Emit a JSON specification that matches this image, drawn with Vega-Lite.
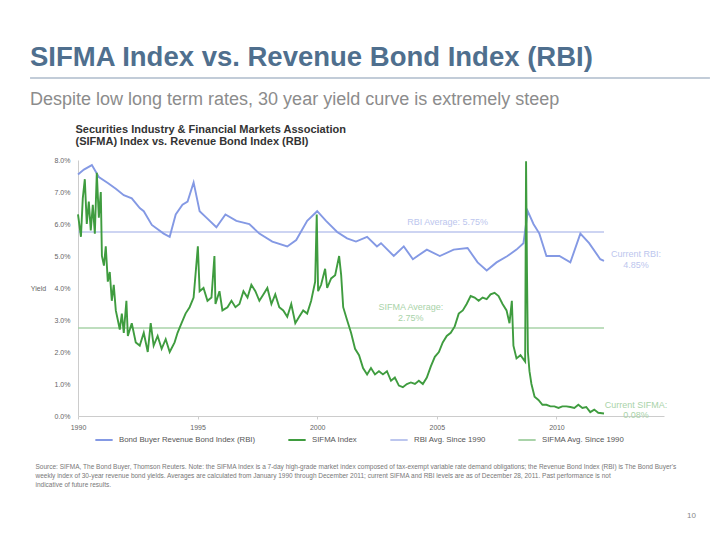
{
  "$schema": "https://vega.github.io/schema/vega-lite/v6.json",
  "autosize": {"type": "none"},
  "padding": {"left": 78, "top": 160, "right": 56, "bottom": 124},
  "width": 586,
  "height": 256,
  "background": "white",
  "config": {"font": "Liberation Sans", "view": {"stroke": null}, "text": {"lineBreak": "\n"}},
  "title": {
    "text": "SIFMA Index vs. Revenue Bond Index (RBI)",
    "subtitle": "Despite low long term rates, 30 year yield curve is extremely steep",
    "anchor": "start", "frame": "group", "dx": -48, "offset": -32,
    "fontSize": 27.5, "fontWeight": "bold", "color": "#4f6f8e",
    "subtitleFontSize": 18, "subtitleColor": "#8c8c8c", "subtitlePadding": 20
  },
  "datasets": {
    "lines": [
      {"date": "1990-01-01", "value": 7.55, "series": "Bond Buyer Revenue Bond Index (RBI)"},
      {"date": "1990-04-01", "value": 7.7, "series": "Bond Buyer Revenue Bond Index (RBI)"},
      {"date": "1990-08-01", "value": 7.84, "series": "Bond Buyer Revenue Bond Index (RBI)"},
      {"date": "1990-11-15", "value": 7.47, "series": "Bond Buyer Revenue Bond Index (RBI)"},
      {"date": "1991-04-01", "value": 7.28, "series": "Bond Buyer Revenue Bond Index (RBI)"},
      {"date": "1991-08-01", "value": 7.1, "series": "Bond Buyer Revenue Bond Index (RBI)"},
      {"date": "1991-12-01", "value": 6.9, "series": "Bond Buyer Revenue Bond Index (RBI)"},
      {"date": "1992-04-01", "value": 6.8, "series": "Bond Buyer Revenue Bond Index (RBI)"},
      {"date": "1992-08-01", "value": 6.5, "series": "Bond Buyer Revenue Bond Index (RBI)"},
      {"date": "1992-10-01", "value": 6.4, "series": "Bond Buyer Revenue Bond Index (RBI)"},
      {"date": "1993-02-01", "value": 5.97, "series": "Bond Buyer Revenue Bond Index (RBI)"},
      {"date": "1993-08-01", "value": 5.7, "series": "Bond Buyer Revenue Bond Index (RBI)"},
      {"date": "1993-11-01", "value": 5.6, "series": "Bond Buyer Revenue Bond Index (RBI)"},
      {"date": "1994-02-01", "value": 6.3, "series": "Bond Buyer Revenue Bond Index (RBI)"},
      {"date": "1994-05-15", "value": 6.6, "series": "Bond Buyer Revenue Bond Index (RBI)"},
      {"date": "1994-08-01", "value": 6.7, "series": "Bond Buyer Revenue Bond Index (RBI)"},
      {"date": "1994-11-01", "value": 7.3, "series": "Bond Buyer Revenue Bond Index (RBI)"},
      {"date": "1995-02-01", "value": 6.4, "series": "Bond Buyer Revenue Bond Index (RBI)"},
      {"date": "1995-05-15", "value": 6.2, "series": "Bond Buyer Revenue Bond Index (RBI)"},
      {"date": "1995-10-15", "value": 5.9, "series": "Bond Buyer Revenue Bond Index (RBI)"},
      {"date": "1996-03-01", "value": 6.3, "series": "Bond Buyer Revenue Bond Index (RBI)"},
      {"date": "1996-08-15", "value": 6.1, "series": "Bond Buyer Revenue Bond Index (RBI)"},
      {"date": "1997-03-01", "value": 6.0, "series": "Bond Buyer Revenue Bond Index (RBI)"},
      {"date": "1997-08-01", "value": 5.7, "series": "Bond Buyer Revenue Bond Index (RBI)"},
      {"date": "1998-02-15", "value": 5.45, "series": "Bond Buyer Revenue Bond Index (RBI)"},
      {"date": "1998-10-01", "value": 5.3, "series": "Bond Buyer Revenue Bond Index (RBI)"},
      {"date": "1999-02-15", "value": 5.5, "series": "Bond Buyer Revenue Bond Index (RBI)"},
      {"date": "1999-08-01", "value": 6.1, "series": "Bond Buyer Revenue Bond Index (RBI)"},
      {"date": "2000-01-01", "value": 6.4, "series": "Bond Buyer Revenue Bond Index (RBI)"},
      {"date": "2000-05-15", "value": 6.1, "series": "Bond Buyer Revenue Bond Index (RBI)"},
      {"date": "2000-11-01", "value": 5.75, "series": "Bond Buyer Revenue Bond Index (RBI)"},
      {"date": "2001-04-01", "value": 5.55, "series": "Bond Buyer Revenue Bond Index (RBI)"},
      {"date": "2001-08-15", "value": 5.45, "series": "Bond Buyer Revenue Bond Index (RBI)"},
      {"date": "2002-02-01", "value": 5.6, "series": "Bond Buyer Revenue Bond Index (RBI)"},
      {"date": "2002-07-01", "value": 5.3, "series": "Bond Buyer Revenue Bond Index (RBI)"},
      {"date": "2002-09-01", "value": 5.4, "series": "Bond Buyer Revenue Bond Index (RBI)"},
      {"date": "2003-03-15", "value": 5.0, "series": "Bond Buyer Revenue Bond Index (RBI)"},
      {"date": "2003-08-15", "value": 5.3, "series": "Bond Buyer Revenue Bond Index (RBI)"},
      {"date": "2004-01-01", "value": 4.9, "series": "Bond Buyer Revenue Bond Index (RBI)"},
      {"date": "2004-08-01", "value": 5.2, "series": "Bond Buyer Revenue Bond Index (RBI)"},
      {"date": "2005-02-15", "value": 5.0, "series": "Bond Buyer Revenue Bond Index (RBI)"},
      {"date": "2005-09-15", "value": 5.2, "series": "Bond Buyer Revenue Bond Index (RBI)"},
      {"date": "2006-04-15", "value": 5.25, "series": "Bond Buyer Revenue Bond Index (RBI)"},
      {"date": "2006-09-15", "value": 4.8, "series": "Bond Buyer Revenue Bond Index (RBI)"},
      {"date": "2007-02-01", "value": 4.55, "series": "Bond Buyer Revenue Bond Index (RBI)"},
      {"date": "2007-07-01", "value": 4.8, "series": "Bond Buyer Revenue Bond Index (RBI)"},
      {"date": "2007-12-15", "value": 5.0, "series": "Bond Buyer Revenue Bond Index (RBI)"},
      {"date": "2008-05-01", "value": 5.2, "series": "Bond Buyer Revenue Bond Index (RBI)"},
      {"date": "2008-08-15", "value": 5.4, "series": "Bond Buyer Revenue Bond Index (RBI)"},
      {"date": "2008-10-20", "value": 6.4, "series": "Bond Buyer Revenue Bond Index (RBI)"},
      {"date": "2009-01-15", "value": 6.0, "series": "Bond Buyer Revenue Bond Index (RBI)"},
      {"date": "2009-04-15", "value": 5.7, "series": "Bond Buyer Revenue Bond Index (RBI)"},
      {"date": "2009-08-01", "value": 5.0, "series": "Bond Buyer Revenue Bond Index (RBI)"},
      {"date": "2010-02-15", "value": 5.0, "series": "Bond Buyer Revenue Bond Index (RBI)"},
      {"date": "2010-08-01", "value": 4.8, "series": "Bond Buyer Revenue Bond Index (RBI)"},
      {"date": "2011-01-01", "value": 5.7, "series": "Bond Buyer Revenue Bond Index (RBI)"},
      {"date": "2011-05-15", "value": 5.4, "series": "Bond Buyer Revenue Bond Index (RBI)"},
      {"date": "2011-11-01", "value": 4.9, "series": "Bond Buyer Revenue Bond Index (RBI)"},
      {"date": "2011-12-28", "value": 4.85, "series": "Bond Buyer Revenue Bond Index (RBI)"},

      {"date": "1990-01-01", "value": 6.3, "series": "SIFMA Index"},
      {"date": "1990-02-15", "value": 5.6, "series": "SIFMA Index"},
      {"date": "1990-03-15", "value": 6.8, "series": "SIFMA Index"},
      {"date": "1990-04-15", "value": 7.4, "series": "SIFMA Index"},
      {"date": "1990-05-15", "value": 6.0, "series": "SIFMA Index"},
      {"date": "1990-06-15", "value": 6.7, "series": "SIFMA Index"},
      {"date": "1990-07-15", "value": 5.8, "series": "SIFMA Index"},
      {"date": "1990-08-15", "value": 6.6, "series": "SIFMA Index"},
      {"date": "1990-09-15", "value": 5.7, "series": "SIFMA Index"},
      {"date": "1990-10-15", "value": 7.6, "series": "SIFMA Index"},
      {"date": "1990-11-15", "value": 6.2, "series": "SIFMA Index"},
      {"date": "1990-12-15", "value": 7.0, "series": "SIFMA Index"},
      {"date": "1991-01-01", "value": 5.0, "series": "SIFMA Index"},
      {"date": "1991-02-01", "value": 4.7, "series": "SIFMA Index"},
      {"date": "1991-03-01", "value": 5.3, "series": "SIFMA Index"},
      {"date": "1991-04-01", "value": 4.2, "series": "SIFMA Index"},
      {"date": "1991-05-01", "value": 4.5, "series": "SIFMA Index"},
      {"date": "1991-06-01", "value": 3.6, "series": "SIFMA Index"},
      {"date": "1991-07-01", "value": 4.1, "series": "SIFMA Index"},
      {"date": "1991-08-01", "value": 3.3, "series": "SIFMA Index"},
      {"date": "1991-09-01", "value": 3.0, "series": "SIFMA Index"},
      {"date": "1991-10-01", "value": 2.7, "series": "SIFMA Index"},
      {"date": "1991-11-01", "value": 3.2, "series": "SIFMA Index"},
      {"date": "1991-12-01", "value": 2.6, "series": "SIFMA Index"},
      {"date": "1992-01-10", "value": 3.6, "series": "SIFMA Index"},
      {"date": "1992-02-01", "value": 2.5, "series": "SIFMA Index"},
      {"date": "1992-04-01", "value": 2.9, "series": "SIFMA Index"},
      {"date": "1992-06-01", "value": 2.3, "series": "SIFMA Index"},
      {"date": "1992-08-01", "value": 2.2, "series": "SIFMA Index"},
      {"date": "1992-10-01", "value": 2.6, "series": "SIFMA Index"},
      {"date": "1992-12-01", "value": 2.0, "series": "SIFMA Index"},
      {"date": "1993-01-15", "value": 2.9, "series": "SIFMA Index"},
      {"date": "1993-03-01", "value": 2.2, "series": "SIFMA Index"},
      {"date": "1993-05-01", "value": 2.5, "series": "SIFMA Index"},
      {"date": "1993-07-01", "value": 2.1, "series": "SIFMA Index"},
      {"date": "1993-09-01", "value": 2.4, "series": "SIFMA Index"},
      {"date": "1993-11-01", "value": 2.0, "series": "SIFMA Index"},
      {"date": "1994-01-15", "value": 2.3, "series": "SIFMA Index"},
      {"date": "1994-03-01", "value": 2.6, "series": "SIFMA Index"},
      {"date": "1994-05-01", "value": 2.9, "series": "SIFMA Index"},
      {"date": "1994-07-01", "value": 3.2, "series": "SIFMA Index"},
      {"date": "1994-09-01", "value": 3.4, "series": "SIFMA Index"},
      {"date": "1994-11-01", "value": 3.7, "series": "SIFMA Index"},
      {"date": "1995-01-05", "value": 5.3, "series": "SIFMA Index"},
      {"date": "1995-02-01", "value": 3.9, "series": "SIFMA Index"},
      {"date": "1995-04-01", "value": 4.0, "series": "SIFMA Index"},
      {"date": "1995-06-01", "value": 3.6, "series": "SIFMA Index"},
      {"date": "1995-08-01", "value": 3.7, "series": "SIFMA Index"},
      {"date": "1995-09-15", "value": 5.0, "series": "SIFMA Index"},
      {"date": "1995-10-01", "value": 3.5, "series": "SIFMA Index"},
      {"date": "1995-12-01", "value": 3.9, "series": "SIFMA Index"},
      {"date": "1996-01-15", "value": 3.3, "series": "SIFMA Index"},
      {"date": "1996-04-01", "value": 3.4, "series": "SIFMA Index"},
      {"date": "1996-06-01", "value": 3.6, "series": "SIFMA Index"},
      {"date": "1996-08-01", "value": 3.4, "series": "SIFMA Index"},
      {"date": "1996-10-01", "value": 3.5, "series": "SIFMA Index"},
      {"date": "1996-12-01", "value": 3.9, "series": "SIFMA Index"},
      {"date": "1997-02-01", "value": 3.7, "series": "SIFMA Index"},
      {"date": "1997-04-01", "value": 4.1, "series": "SIFMA Index"},
      {"date": "1997-06-01", "value": 3.9, "series": "SIFMA Index"},
      {"date": "1997-08-01", "value": 3.6, "series": "SIFMA Index"},
      {"date": "1997-10-01", "value": 3.8, "series": "SIFMA Index"},
      {"date": "1997-12-01", "value": 4.0, "series": "SIFMA Index"},
      {"date": "1998-02-01", "value": 3.5, "series": "SIFMA Index"},
      {"date": "1998-04-01", "value": 3.8, "series": "SIFMA Index"},
      {"date": "1998-06-01", "value": 3.4, "series": "SIFMA Index"},
      {"date": "1998-08-01", "value": 3.3, "series": "SIFMA Index"},
      {"date": "1998-10-01", "value": 3.1, "series": "SIFMA Index"},
      {"date": "1998-12-01", "value": 3.5, "series": "SIFMA Index"},
      {"date": "1999-02-01", "value": 2.9, "series": "SIFMA Index"},
      {"date": "1999-04-01", "value": 3.1, "series": "SIFMA Index"},
      {"date": "1999-06-01", "value": 3.3, "series": "SIFMA Index"},
      {"date": "1999-08-01", "value": 3.2, "series": "SIFMA Index"},
      {"date": "1999-10-01", "value": 3.6, "series": "SIFMA Index"},
      {"date": "1999-12-01", "value": 4.2, "series": "SIFMA Index"},
      {"date": "1999-12-25", "value": 6.3, "series": "SIFMA Index"},
      {"date": "2000-01-15", "value": 3.9, "series": "SIFMA Index"},
      {"date": "2000-03-01", "value": 4.1, "series": "SIFMA Index"},
      {"date": "2000-05-01", "value": 4.6, "series": "SIFMA Index"},
      {"date": "2000-06-01", "value": 4.0, "series": "SIFMA Index"},
      {"date": "2000-08-01", "value": 4.3, "series": "SIFMA Index"},
      {"date": "2000-10-01", "value": 4.4, "series": "SIFMA Index"},
      {"date": "2000-12-01", "value": 5.0, "series": "SIFMA Index"},
      {"date": "2001-01-01", "value": 4.4, "series": "SIFMA Index"},
      {"date": "2001-02-01", "value": 3.4, "series": "SIFMA Index"},
      {"date": "2001-04-01", "value": 3.0, "series": "SIFMA Index"},
      {"date": "2001-06-01", "value": 2.6, "series": "SIFMA Index"},
      {"date": "2001-08-01", "value": 2.1, "series": "SIFMA Index"},
      {"date": "2001-10-01", "value": 1.9, "series": "SIFMA Index"},
      {"date": "2001-12-01", "value": 1.5, "series": "SIFMA Index"},
      {"date": "2002-02-01", "value": 1.3, "series": "SIFMA Index"},
      {"date": "2002-04-01", "value": 1.5, "series": "SIFMA Index"},
      {"date": "2002-06-01", "value": 1.3, "series": "SIFMA Index"},
      {"date": "2002-08-01", "value": 1.4, "series": "SIFMA Index"},
      {"date": "2002-10-01", "value": 1.3, "series": "SIFMA Index"},
      {"date": "2002-12-01", "value": 1.4, "series": "SIFMA Index"},
      {"date": "2003-02-01", "value": 1.1, "series": "SIFMA Index"},
      {"date": "2003-04-01", "value": 1.2, "series": "SIFMA Index"},
      {"date": "2003-06-01", "value": 0.95, "series": "SIFMA Index"},
      {"date": "2003-08-01", "value": 0.9, "series": "SIFMA Index"},
      {"date": "2003-10-01", "value": 1.0, "series": "SIFMA Index"},
      {"date": "2003-12-01", "value": 1.05, "series": "SIFMA Index"},
      {"date": "2004-02-01", "value": 1.0, "series": "SIFMA Index"},
      {"date": "2004-04-01", "value": 1.1, "series": "SIFMA Index"},
      {"date": "2004-06-01", "value": 1.0, "series": "SIFMA Index"},
      {"date": "2004-08-01", "value": 1.2, "series": "SIFMA Index"},
      {"date": "2004-10-01", "value": 1.55, "series": "SIFMA Index"},
      {"date": "2004-12-01", "value": 1.85, "series": "SIFMA Index"},
      {"date": "2005-02-01", "value": 2.0, "series": "SIFMA Index"},
      {"date": "2005-04-01", "value": 2.3, "series": "SIFMA Index"},
      {"date": "2005-06-01", "value": 2.5, "series": "SIFMA Index"},
      {"date": "2005-08-01", "value": 2.6, "series": "SIFMA Index"},
      {"date": "2005-10-01", "value": 2.8, "series": "SIFMA Index"},
      {"date": "2005-12-01", "value": 3.2, "series": "SIFMA Index"},
      {"date": "2006-02-01", "value": 3.3, "series": "SIFMA Index"},
      {"date": "2006-04-01", "value": 3.5, "series": "SIFMA Index"},
      {"date": "2006-06-01", "value": 3.75, "series": "SIFMA Index"},
      {"date": "2006-08-01", "value": 3.7, "series": "SIFMA Index"},
      {"date": "2006-10-01", "value": 3.6, "series": "SIFMA Index"},
      {"date": "2006-12-01", "value": 3.7, "series": "SIFMA Index"},
      {"date": "2007-02-01", "value": 3.65, "series": "SIFMA Index"},
      {"date": "2007-04-01", "value": 3.8, "series": "SIFMA Index"},
      {"date": "2007-06-01", "value": 3.85, "series": "SIFMA Index"},
      {"date": "2007-08-01", "value": 3.75, "series": "SIFMA Index"},
      {"date": "2007-10-01", "value": 3.5, "series": "SIFMA Index"},
      {"date": "2007-12-01", "value": 3.3, "series": "SIFMA Index"},
      {"date": "2008-01-15", "value": 2.9, "series": "SIFMA Index"},
      {"date": "2008-02-20", "value": 3.6, "series": "SIFMA Index"},
      {"date": "2008-03-15", "value": 2.2, "series": "SIFMA Index"},
      {"date": "2008-05-01", "value": 1.8, "series": "SIFMA Index"},
      {"date": "2008-07-01", "value": 1.9, "series": "SIFMA Index"},
      {"date": "2008-09-10", "value": 1.7, "series": "SIFMA Index"},
      {"date": "2008-09-24", "value": 7.96, "series": "SIFMA Index"},
      {"date": "2008-10-08", "value": 4.5, "series": "SIFMA Index"},
      {"date": "2008-10-22", "value": 2.0, "series": "SIFMA Index"},
      {"date": "2008-11-15", "value": 1.4, "series": "SIFMA Index"},
      {"date": "2008-12-15", "value": 1.0, "series": "SIFMA Index"},
      {"date": "2009-02-01", "value": 0.6, "series": "SIFMA Index"},
      {"date": "2009-04-01", "value": 0.5, "series": "SIFMA Index"},
      {"date": "2009-06-01", "value": 0.35, "series": "SIFMA Index"},
      {"date": "2009-08-01", "value": 0.35, "series": "SIFMA Index"},
      {"date": "2009-10-01", "value": 0.3, "series": "SIFMA Index"},
      {"date": "2009-12-01", "value": 0.3, "series": "SIFMA Index"},
      {"date": "2010-02-01", "value": 0.25, "series": "SIFMA Index"},
      {"date": "2010-04-01", "value": 0.3, "series": "SIFMA Index"},
      {"date": "2010-06-01", "value": 0.3, "series": "SIFMA Index"},
      {"date": "2010-08-01", "value": 0.28, "series": "SIFMA Index"},
      {"date": "2010-10-01", "value": 0.25, "series": "SIFMA Index"},
      {"date": "2010-12-01", "value": 0.35, "series": "SIFMA Index"},
      {"date": "2011-02-01", "value": 0.25, "series": "SIFMA Index"},
      {"date": "2011-04-01", "value": 0.28, "series": "SIFMA Index"},
      {"date": "2011-06-01", "value": 0.12, "series": "SIFMA Index"},
      {"date": "2011-08-01", "value": 0.2, "series": "SIFMA Index"},
      {"date": "2011-10-01", "value": 0.1, "series": "SIFMA Index"},
      {"date": "2011-12-28", "value": 0.08, "series": "SIFMA Index"}
    ],
    "averages": [
      {"start": "1990-01-01", "end": "2011-12-28", "value": 5.75, "series": "RBI Avg. Since 1990"},
      {"start": "1990-01-01", "end": "2011-12-28", "value": 2.75, "series": "SIFMA Avg. Since 1990"}
    ],
    "labels": [
      {"date": "2005-06-15", "value": 6.06, "text": "RBI Average: 5.75%", "series": "RBI Avg. Since 1990"},
      {"date": "2003-12-01", "value": 3.4, "text": "SIFMA Average:\n2.75%", "series": "SIFMA Avg. Since 1990"},
      {"date": "2013-05-01", "value": 5.05, "text": "Current RBI:\n4.85%", "series": "RBI Avg. Since 1990"},
      {"date": "2013-05-01", "value": 0.35, "text": "Current SIFMA:\n0.08%", "series": "SIFMA Avg. Since 1990"}
    ]
  },
  "resolve": {"axis": {"x": "independent", "y": "independent"}},
  "layer": [
    {
      "data": {"name": "averages"},
      "mark": {"type": "rule", "strokeWidth": 1.5},
      "encoding": {
        "x": {"field": "start", "type": "temporal", "scale": {"domain": ["1990-01-01", "2014-07-01"]},
              "axis": {"orient": "top", "labels": false, "ticks": false, "domain": false, "grid": false,
                       "title": ["Securities Industry & Financial Markets Association", "(SIFMA) Index vs. Revenue Bond Index (RBI)"],
                       "titleX": -3, "titleY": -28, "titleAlign": "left", "titleAnchor": "start", "titleBaseline": "alphabetic",
                       "titleFontSize": 11, "titleFontWeight": "bold", "titleColor": "#333333", "titleLineHeight": 12.5}},
        "x2": {"field": "end"},
        "y": {"field": "value", "type": "quantitative", "scale": {"domain": [0, 8], "nice": false},
              "axis": {"orient": "right", "labels": false, "ticks": false, "domain": false, "grid": false,
                       "title": "10", "titleAngle": 0, "titleX": 27, "titleY": 359, "titleFontSize": 8,
                       "titleFontWeight": "normal", "titleColor": "#888888"}},
        "color": {"field": "series", "type": "nominal"}
      }
    },
    {
      "data": {"name": "lines"},
      "mark": {"type": "line", "strokeWidth": 1.9, "interpolate": "linear"},
      "encoding": {
        "x": {"field": "date", "type": "temporal",
              "axis": {"orient": "bottom", "format": "%Y", "tickCount": {"interval": "year", "step": 5}, "labelFlush": false,
                       "labelFontSize": 7, "labelColor": "#666666", "domainColor": "#cccccc", "tickColor": "#cccccc",
                       "tickSize": 3, "grid": false, "labelPadding": 4,
                       "title": ["Source: SIFMA, The Bond Buyer, Thomson Reuters. Note: the SIFMA Index is a 7-day high-grade market index composed of tax-exempt variable rate demand obligations; the Revenue Bond Index (RBI) is The Bond Buyer's",
                                 "   weekly index of 30-year revenue bond yields. Averages are calculated from January 1990 through December 2011; current SIFMA and RBI levels are as of December 28, 2011. Past performance is not",
                                 "   indicative of future results."],
                       "titleX": -43, "titleY": 47, "titleAlign": "left", "titleAnchor": "start", "titleBaseline": "top",
                       "titleFontSize": 6.5, "titleFontWeight": "normal", "titleColor": "#777777", "titleLineHeight": 9}},
        "y": {"field": "value", "type": "quantitative",
              "axis": {"orient": "left", "values": [0, 1, 2, 3, 4, 5, 6, 7, 8],
                       "labelExpr": "format(datum.value, '.1f') + '%'",
                       "labelFontSize": 7, "labelColor": "#666666", "grid": false, "domainColor": "#cccccc",
                       "ticks": false, "labelPadding": 8,
                       "title": "Yield", "titleAngle": 0, "titleX": -40, "titleY": 128, "titleAlign": "center",
                       "titleBaseline": "middle", "titleFontSize": 7, "titleFontWeight": "normal", "titleColor": "#666666"}},
        "color": {"field": "series", "type": "nominal",
                  "scale": {"domain": ["Bond Buyer Revenue Bond Index (RBI)", "SIFMA Index", "RBI Avg. Since 1990", "SIFMA Avg. Since 1990"],
                            "range": ["#8499e4", "#3f9c3f", "#bcc6ee", "#a9d3a9"]},
                  "legend": {"orient": "none", "legendX": 16, "legendY": 270, "direction": "horizontal", "title": null,
                             "symbolType": "stroke", "symbolStrokeWidth": 2, "symbolSize": 300, "labelOffset": 5,
                             "labelFontSize": 7.8, "labelColor": "#555555", "columnPadding": 28}}
      }
    },
    {
      "data": {"name": "labels"},
      "mark": {"type": "text", "fontSize": 9, "align": "center", "baseline": "middle", "lineHeight": 10.5},
      "encoding": {
        "x": {"field": "date", "type": "temporal", "axis": null},
        "y": {"field": "value", "type": "quantitative", "axis": null},
        "text": {"field": "text"},
        "color": {"field": "series", "type": "nominal", "legend": null,
                  "scale": {"domain": ["Bond Buyer Revenue Bond Index (RBI)", "SIFMA Index", "RBI Avg. Since 1990", "SIFMA Avg. Since 1990"],
                            "range": ["#8499e4", "#3f9c3f", "#8ea2e6", "#5aaa5a"]}}
      }
    },
    {
      "data": {"values": [{}]},
      "mark": {"type": "rule", "strokeWidth": 2, "color": "#c2ccd8", "clip": false},
      "encoding": {
        "x": {"datum": {"year": 1987, "month": 12, "date": 31}, "type": "temporal", "axis": null},
        "x2": {"datum": {"year": 2016, "month": 6, "date": 1}},
        "y": {"datum": 10.56, "type": "quantitative", "axis": null}
      }
    }
  ]
}
